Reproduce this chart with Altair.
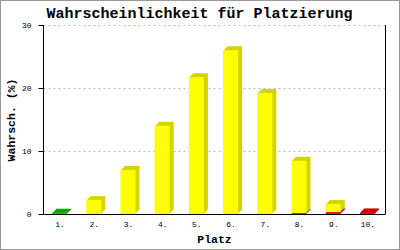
import altair as alt
import pandas as pd

places = ["1.", "2.", "3.", "4.", "5.", "6.", "7.", "8.", "9.", "10."]
green_vals = [0.2, 0, 0, 0, 0, 0, 0, 0, 0, 0]
red_vals = [0, 0, 0, 0, 0, 0, 0, 0.15, 0.3, 0.25]
yellow_vals = [0, 2.2, 7.0, 14.0, 21.7, 26.0, 19.2, 8.3, 1.3, 0]
y_ticks = [0, 10, 20, 30]

rows = []
for i, p in enumerate(places):
    for cat, vals, o in (("green", green_vals, 0), ("red", red_vals, 1), ("yellow", yellow_vals, 2)):
        if vals[i] > 0:
            rows.append({"place": p, "cat": cat, "value": vals[i], "ord": o})
df = pd.DataFrame(rows)

MONO = "Liberation Mono"
cats = ["green", "red", "yellow"]
front_cols = ["#00cc00", "#ff0000", "#ffff00"]
back_cols = ["#00aa00", "#cc0000", "#d4d400"]

x_enc = alt.X("place:N", sort=places, scale=alt.Scale(paddingInner=0, paddingOuter=0),
              axis=alt.Axis(title="Platz", labelAngle=0, ticks=False, labelPadding=6,
                            titlePadding=5, grid=False))
y_enc = alt.Y("value:Q", stack="zero", scale=alt.Scale(domain=[0, 30], nice=False),
              axis=alt.Axis(title="Wahrsch. (%)", values=y_ticks, tickSize=5, labelPadding=7,
                            titlePadding=5, grid=True, gridDash=[2, 3], gridColor="#bbbbbb"))
order_enc = alt.Order("ord:Q")

base = alt.Chart(df)
layers = []
for k in (4, 3, 2, 1):
    layers.append(
        base.mark_bar(size=15, xOffset=k - 0.5, yOffset=-k).encode(
            x=x_enc, y=y_enc, order=order_enc,
            color=alt.Color("cat:N", scale=alt.Scale(domain=cats, range=back_cols), legend=None),
        )
    )
layers.append(
    base.mark_bar(size=15, xOffset=-0.5).encode(
        x=x_enc, y=y_enc, order=order_enc,
        color=alt.Color("cat:N", scale=alt.Scale(domain=cats, range=front_cols), legend=None),
    )
)

right_rule = alt.Chart(df).mark_rule(color="black", strokeWidth=1).encode(
    x=alt.value(342.5), y=alt.value(0), y2=alt.value(189)
)
border = alt.Chart(df).mark_rect(filled=False, stroke="#999999", strokeWidth=1).encode(
    x=alt.value(-42.5), x2=alt.value(356.5), y=alt.value(-24.5), y2=alt.value(224.5)
)

chart = alt.layer(*layers, right_rule, border).resolve_scale(color="independent").properties(
    width=342, height=189,
    background="white",
    autosize=alt.AutoSizeParams(type="none"),
    padding={"left": 43, "top": 25, "right": 15, "bottom": 36},
    title=alt.TitleParams("Wahrscheinlichkeit für Platzierung", font=MONO, fontSize=15,
                          fontWeight="bold", color="black", anchor="middle", dx=-14.5,
                          offset=6, dy=27),
).configure_view(stroke=None).configure_axis(
    domainColor="black", tickColor="black", labelFont=MONO, labelFontSize=8,
    labelColor="black", titleFont=MONO, titleFontSize=11.5, titleFontWeight="bold",
    titleColor="black"
)

chart.save("out.html", embed_options={"renderer": "svg", "actions": False})
